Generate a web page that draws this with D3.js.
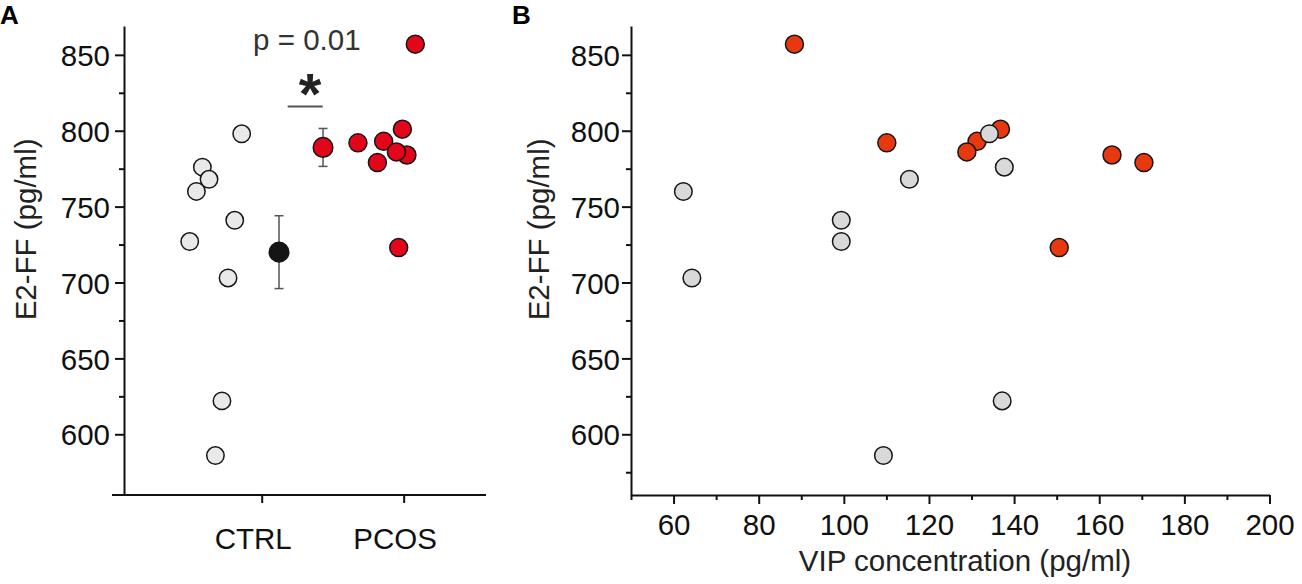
<!DOCTYPE html>
<html>
<head>
<meta charset="utf-8">
<script src="https://cdn.jsdelivr.net/npm/d3@7/dist/d3.min.js"></script>
<style>
  html, body { margin: 0; padding: 0; background: #fff; }
  svg { display: block; font-family: "Liberation Sans", Arial, sans-serif; }
  .domain { stroke: #111; stroke-width: 2; }
  .tick line { stroke: #111; stroke-width: 2; }
  .tick text { fill: #111; font-size: 29.5px; }
</style>
</head>
<body>
<svg id="chart" width="1302" height="584"></svg>
<script>
// --- data ---
const groups = ['CTRL', 'PCOS'];

// panel A: jittered x position (in group units, CTRL=1, PCOS=2) and E2-FF value
const ctrlX = [0.859, 0.582, 0.629, 0.540, 0.810, 0.493, 0.763, 0.720, 0.674];
const ctrlE2 = [798, 776, 768, 760, 741, 727, 703, 622, 586];
const pcosX = [1.678, 1.815, 1.859, 1.991, 2.023, 1.949, 1.965, 2.082];
const pcosE2 = [792, 779, 793, 801, 784, 786, 723, 857];

// mean +/- SEM markers
const meanX = [1.122, 1.432];
const meanE2 = [720, 789];
const meanErr = [24, 12.5];

// panel B: VIP concentration vs E2-FF
const ctrlVip = [134.2, 137.7, 115.4, 62.3, 99.4, 99.4, 64.3, 137.2, 109.3];
const pcosVip = [110.1, 170.5, 131.3, 136.8, 163.0, 128.9, 150.6, 88.4];

const yTicks = [600, 650, 700, 750, 800, 850];
const yMinorA = [625, 675, 725, 775, 825];
const yMinorB = [575, 625, 675, 725, 775, 825];
const xTicksB = [60, 80, 100, 120, 140, 160, 180, 200];
const xMinorB = [50, 70, 90, 110, 130, 150, 170, 190];

const svg = d3.select('#chart');

const y = d3.scaleLinear().domain([560, 869]).range([495, 26]);

function yAxis(g, x0, minor, pad) {
    g.append('g').attr('transform', `translate(${x0},0)`)
        .call(d3.axisLeft(y).tickValues(minor).tickSize(5).tickFormat(''))
        .call(s => s.select('.domain').remove());
    g.append('g').attr('transform', `translate(${x0},0)`)
        .call(d3.axisLeft(y).tickValues(yTicks).tickSize(9).tickSizeOuter(0).tickPadding(pad))
        .call(s => s.selectAll('.tick text').attr('dy', '0.36em'));
}

function dot(sel, fill, r) {
    sel.attr('r', r).attr('fill', fill).attr('stroke', '#161616').attr('stroke-width', 1.5);
}

// --- panel A ---
const gA = svg.append('g');
const xA = d3.scaleLinear().domain([0.03, 2.58]).range([124, 486]);

yAxis(gA, 124, yMinorA, 5);

gA.append('g').attr('transform', 'translate(0,495)')
    .call(d3.axisBottom(xA).tickValues([1, 2]).tickSize(8).tickSizeOuter(0)
        .tickFormat(d => groups[d - 1]))
    .call(s => s.selectAll('.tick text').attr('y', 54).attr('dy', 0).attr('dx', -9))
    .call(s => s.select('.domain').attr('d', 'M112,0H486'));

gA.append('text')
    .attr('transform', `translate(36,${y(735)}) rotate(-90)`)
    .attr('text-anchor', 'middle').attr('fill', '#222').style('font-size', '29.5px')
    .text('E2-FF (pg/ml)');

gA.selectAll('circle.ctrl').data(ctrlE2).join('circle').attr('class', 'ctrl')
    .attr('cx', (d, i) => xA(ctrlX[i])).attr('cy', d => y(d))
    .call(dot, '#e9e9e9', 8.7);

gA.selectAll('circle.pcos').data(pcosE2).join('circle').attr('class', 'pcos')
    .attr('cx', (d, i) => xA(pcosX[i])).attr('cy', d => y(d))
    .call(dot, '#e3061a', 9);

// mean +/- SEM
const errG = gA.append('g').attr('stroke', '#555').attr('stroke-width', 1.5);
meanE2.forEach((m, i) => {
    const cx = xA(meanX[i]);
    errG.append('line').attr('x1', cx).attr('x2', cx).attr('y1', y(m - meanErr[i])).attr('y2', y(m + meanErr[i]));
    [m - meanErr[i], m + meanErr[i]].forEach(v => {
        errG.append('line').attr('x1', cx - 4.5).attr('x2', cx + 4.5).attr('y1', y(v)).attr('y2', y(v));
    });
});
gA.selectAll('circle.mean').data(meanE2).join('circle').attr('class', 'mean')
    .attr('cx', (d, i) => xA(meanX[i])).attr('cy', d => y(d))
    .call(dot, d => d === meanE2[0] ? '#151515' : '#e3061a', 9.8);

// significance
gA.append('line').attr('x1', xA(1.183)).attr('x2', xA(1.43)).attr('y1', y(816)).attr('y2', y(816))
    .attr('stroke', '#555').attr('stroke-width', 2);
gA.append('text').attr('x', xA(1.34)).attr('y', y(816) + 8)
    .attr('text-anchor', 'middle').attr('font-weight', 'bold').attr('fill', '#222')
    .style('font-size', '58px').text('*');
gA.append('text').attr('x', xA(1.318)).attr('y', 50)
    .attr('text-anchor', 'middle').attr('fill', '#333').style('font-size', '29.5px')
    .text('p = 0.01');

gA.append('text').attr('x', 0).attr('y', 24).attr('font-weight', 'bold')
    .style('font-size', '26px').text('A');

// --- panel B ---
const gB = svg.append('g');
const xB = d3.scaleLinear().domain([50, 200]).range([631, 1269.5]);

yAxis(gB, 631, yMinorB, 2);

gB.append('g').attr('transform', 'translate(0,495)')
    .call(d3.axisBottom(xB).tickValues(xMinorB).tickSize(5).tickFormat(''))
    .call(s => s.select('.domain').remove());
gB.append('g').attr('transform', 'translate(0,495)')
    .call(d3.axisBottom(xB).tickValues(xTicksB).tickSize(9).tickSizeOuter(0))
    .call(s => s.selectAll('.tick text').attr('y', 40).attr('dy', 0));

gB.append('text')
    .attr('transform', `translate(549,${y(735)}) rotate(-90)`)
    .attr('text-anchor', 'middle').attr('fill', '#222').style('font-size', '29.5px')
    .text('E2-FF (pg/ml)');
gB.append('text').attr('x', 965).attr('y', 571)
    .attr('text-anchor', 'middle').attr('fill', '#222').style('font-size', '29.5px')
    .text('VIP concentration (pg/ml)');

gB.selectAll('circle.pcos').data(pcosE2).join('circle').attr('class', 'pcos')
    .attr('cx', (d, i) => xB(pcosVip[i])).attr('cy', d => y(d))
    .call(dot, '#e8380f', 9);
gB.selectAll('circle.ctrl').data(ctrlE2).join('circle').attr('class', 'ctrl')
    .attr('cx', (d, i) => xB(ctrlVip[i])).attr('cy', d => y(d))
    .call(dot, '#d9d9d9', 8.8);

gB.append('text').attr('x', 512).attr('y', 24).attr('font-weight', 'bold')
    .style('font-size', '26px').text('B');
</script>
</body>
</html>
